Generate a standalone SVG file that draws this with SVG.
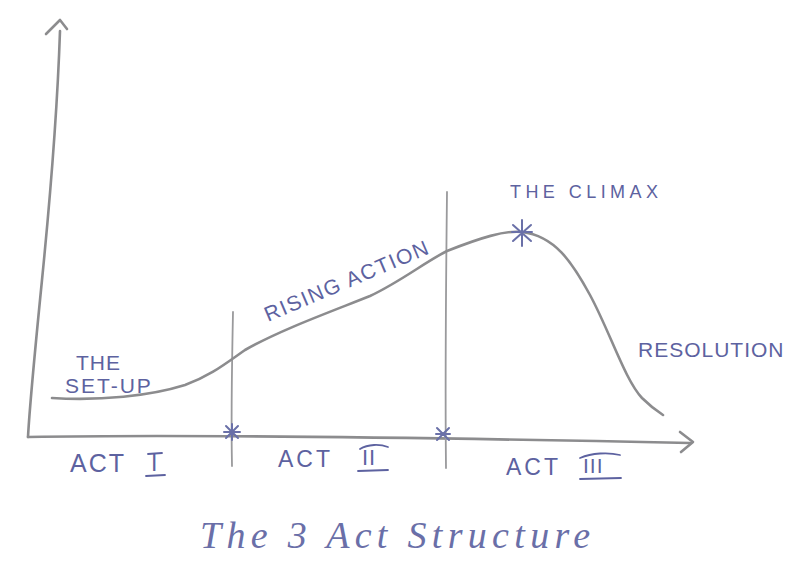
<svg xmlns="http://www.w3.org/2000/svg" width="804" height="573" viewBox="0 0 804 573">
<style>
.pen{fill:none;stroke:#8c8c8e;stroke-width:2.6;stroke-linecap:round;stroke-linejoin:round}
.thin{fill:none;stroke:#9a9a9c;stroke-width:1.8;stroke-linecap:round}
.star{fill:none;stroke:#6a70a8;stroke-width:2;stroke-linecap:round}
.lbl{font-family:"Liberation Sans","DejaVu Sans",sans-serif;fill:#5d62a0;font-weight:normal}
.title{font-family:"Liberation Serif","DejaVu Serif",serif;font-style:italic;fill:#6a6fa8}
.ul{fill:none;stroke:#5d62a0;stroke-width:1.8;stroke-linecap:round}
</style>
<rect width="804" height="573" fill="#ffffff"/>
<g id="axes">
  <path class="pen" d="M60,31 C57,120 50,200 42,280 C36,340 30,400 28,437"/>
  <path class="pen" d="M46,34 L60,20 L67,29"/>
  <path class="pen" d="M28,437 C200,434 450,438 690,443"/>
  <path class="pen" d="M680,432 L693,442 L681,452"/>
</g>
<g id="connectors">
  <path class="thin" d="M233,312 C232,360 231,420 232,466"/>
  <path class="thin" d="M447,192 C446,280 445,380 446,468"/>
  <path class="pen" d="M52,398 C100,401 150,396 185,385 C210,376 225,364 245,350 C280,330 330,312 370,296 C400,282 425,262 447,251 C480,238 505,230 522,232 C555,236 572,262 590,295 C610,332 625,380 642,398 C650,406 657,411 663,415"/>
</g>
<g id="markers">
  <path class="star" d="M226,426 L238,438 M238,426 L226,438 M232,424 L232,440 M224,432 L240,432"/>
  <path class="star" d="M437,428 L449,440 M449,428 L437,440 M436,434 L450,434"/>
  <path class="star" d="M522,220 L522,246 M513,225 L531,241 M531,225 L513,241 M512,232 L532,232"/>
</g>
<g id="setup">
  <text class="lbl" x="76" y="370" font-size="21" letter-spacing="1">THE</text>
  <text class="lbl" x="65" y="393" font-size="21" letter-spacing="2">SET-UP</text>
</g>
<g id="rising">
  <text class="lbl" font-size="21" letter-spacing="2" transform="translate(268,322) rotate(-23)" textLength="178">RISING ACTION</text>
</g>
<g id="climax">
  <text class="lbl" x="510" y="198" font-size="18" letter-spacing="2" textLength="150">THE  CLIMAX</text>
</g>
<g id="resolution">
  <text class="lbl" x="638" y="357" font-size="21" letter-spacing="1.5" textLength="147">RESOLUTION</text>
</g>
<g id="act1">
  <text class="lbl" x="70" y="472" font-size="25" letter-spacing="2">ACT</text>
  <text class="lbl" x="151" y="471" font-size="23">I</text>
  <path class="ul" d="M146,476 L165,475"/>
  <path class="ul" d="M148,454 L162,453"/>
</g>
<g id="act2">
  <text class="lbl" x="278" y="467" font-size="23" letter-spacing="3">ACT</text>
  <text class="lbl" x="362" y="465" font-size="22" letter-spacing="1">II</text>
  <path class="ul" d="M358,471 L388,470"/>
  <path class="ul" d="M360,449 C368,444 380,444 388,447"/>
</g>
<g id="act3">
  <text class="lbl" x="506" y="475" font-size="23" letter-spacing="3">ACT</text>
  <text class="lbl" x="583" y="473" font-size="21" letter-spacing="1">III</text>
  <path class="ul" d="M580,479 L621,478"/>
  <path class="ul" d="M580,458 C592,453 608,452 620,455"/>
</g>
<g id="title">
  <text class="title" x="200" y="548" font-size="38" textLength="390">The  3  Act  Structure</text>
</g>
</svg>
